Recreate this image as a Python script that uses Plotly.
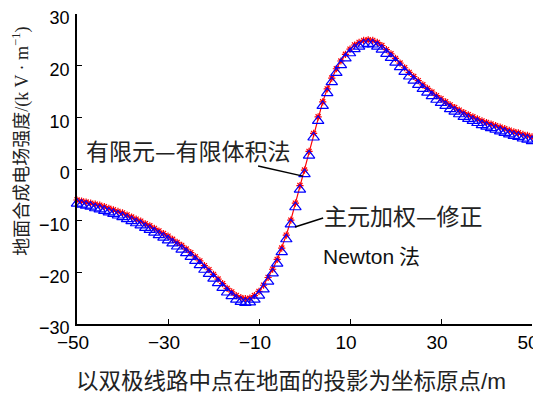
import plotly.graph_objects as go

# distance from the projection of the bipolar line midpoint (m)
x_pos = list(range(-50, 51))

# FEM-FVM method (red line + asterisks)
e_fem_fvm = [
    -6.0, -6.2, -6.4, -6.6, -6.8, -7.0, -7.3, -7.6, -7.9, -8.2,
    -8.5, -8.9, -9.3, -9.7, -10.1, -10.6, -11.0, -11.5, -12.0, -12.5,
    -13.0, -13.6, -14.2, -14.8, -15.5, -16.2, -17.0, -17.8, -18.7, -19.5,
    -20.4, -21.3, -22.2, -23.1, -23.8, -24.5, -24.9, -25.1, -25.0, -24.5,
    -23.7, -22.5, -21.0, -19.4, -17.5, -15.3, -12.8, -9.9, -6.6, -3.2,
    -0.2,
    3.4, 6.9, 10.1, 13.0, 15.5, 17.6, 19.4, 20.9, 22.2, 23.2,
    24.0, 24.5, 24.9, 25.0, 24.9, 24.5, 23.9, 23.1, 22.3, 21.4,
    20.5, 19.6, 18.7, 17.9, 17.1, 16.3, 15.6, 14.9, 14.2, 13.6,
    13.0, 12.4, 11.9, 11.4, 10.9, 10.5, 10.1, 9.7, 9.3, 9.0,
    8.7, 8.4, 8.1, 7.8, 7.5, 7.2, 7.0, 6.7, 6.5, 6.2,
]

# Principal-element weighted modified Newton method (blue triangles)
e_newton = [
    -6.7, -6.9, -7.1, -7.3, -7.6, -7.8, -8.1, -8.4, -8.7, -9.0,
    -9.3, -9.7, -10.1, -10.5, -10.9, -11.4, -11.8, -12.3, -12.8, -13.3,
    -13.8, -14.4, -15.0, -15.6, -16.3, -17.0, -17.8, -18.6, -19.5, -20.3,
    -21.2, -22.1, -23.0, -23.9, -24.6, -25.3, -25.7, -25.9, -25.8, -25.3,
    -24.5, -23.3, -21.8, -20.2, -18.3, -16.1, -13.6, -10.7, -7.4, -4.0,
    -1.0,
    2.6, 6.1, 9.3, 12.2, 14.7, 16.8, 18.6, 20.1, 21.4, 22.4,
    23.2, 23.7, 24.1, 24.2, 24.1, 23.7, 23.1, 22.3, 21.5, 20.6,
    19.7, 18.8, 17.9, 17.1, 16.3, 15.5, 14.8, 14.1, 13.4, 12.8,
    12.2, 11.6, 11.1, 10.6, 10.1, 9.7, 9.3, 8.9, 8.5, 8.2,
    7.9, 7.6, 7.3, 7.0, 6.7, 6.4, 6.2, 5.9, 5.7, 5.4,
]

x_ticks = [-50, -30, -10, 10, 30, 50]
y_ticks = [-30, -20, -10, 0, 10, 20, 30]

CJK = "Noto Sans CJK SC"
TICKFONT = dict(family="Liberation Sans, Arial, sans-serif", size=19, color="black")

fig = go.Figure()
fig.add_trace(go.Scatter(
    x=x_pos, y=e_fem_fvm, mode="lines+markers", name="有限元—有限体积法",
    line=dict(color="#ff0000", width=1.2),
    marker=dict(symbol="asterisk-open", size=6, color="#ff0000",
                line=dict(width=1.2, color="#ff0000")),
    cliponaxis=False,
))
fig.add_trace(go.Scatter(
    x=x_pos, y=e_newton, mode="markers", name="主元加权—修正Newton法",
    marker=dict(symbol="triangle-up-open", size=10, color="#0000ff",
                line=dict(width=1.2, color="#0000ff")),
    cliponaxis=False,
))

# the page body adds an 8px margin, so the figure is 8px smaller than the window
fig.update_layout(
    width=533, height=388,
    margin=dict(l=69, r=9, t=6, b=72),
    paper_bgcolor="white", plot_bgcolor="white",
    showlegend=False,
    xaxis=dict(range=[-50, 50], tickvals=x_ticks, ticks="inside", ticklen=5,
               tickwidth=1, tickcolor="black", showline=True, linecolor="black",
               linewidth=1.5, showgrid=False, zeroline=False, tickfont=TICKFONT,
               automargin=False, ticklabeloverflow="allow", ticklabelshift=-4),
    yaxis=dict(range=[-30, 30], tickvals=y_ticks, ticks="inside", ticklen=5,
               tickwidth=1, tickcolor="black", showline=True, linecolor="black",
               linewidth=1.5, showgrid=False, zeroline=False,
               tickfont=dict(TICKFONT, size=18), ticklabelshift=4,
               ticklabelstandoff=2, automargin=False, ticklabeloverflow="allow"),
)

annots = [
    dict(text="以双极线路中点在地面的投影为坐标原点<span style='font-family:Liberation Sans'>/m</span>",
         x=0.47, y=-0.177, xanchor="center", yanchor="middle",
         font=dict(family=CJK, size=22.5, color="#222")),
    dict(text="地面合成电场强度<span style='font-family:Liberation Serif'>/(k V · m<sup>−1</sup>)</span>",
         x=-0.126, y=0.59, xanchor="center", yanchor="middle", textangle=-90,
         font=dict(family=CJK, size=18, color="#222")),
    dict(text="有限元—有限体积法", x=0.015, y=0.562, xanchor="left", yanchor="middle",
         font=dict(family=CJK, size=23, color="#222")),
    dict(text="主元加权—修正", x=0.539, y=0.352, xanchor="left", yanchor="middle",
         font=dict(family=CJK, size=23, color="#222")),
    dict(text="<span style='font-family:Liberation Sans'>Newton</span> 法", x=0.537, y=0.222,
         xanchor="left", yanchor="middle",
         font=dict(family=CJK, size=21, color="#111")),
]
for a in annots:
    fig.add_annotation(xref="paper", yref="paper", showarrow=False, **a)

fig.add_shape(type="line", xref="paper", yref="paper",
              x0=0.398, y0=0.510, x1=0.4967, y1=0.477,
              line=dict(color="black", width=1.5))
fig.add_shape(type="line", xref="paper", yref="paper",
              x0=0.479, y0=0.313, x1=0.541, y1=0.342,
              line=dict(color="black", width=1.5))

fig.write_html("out.html")
